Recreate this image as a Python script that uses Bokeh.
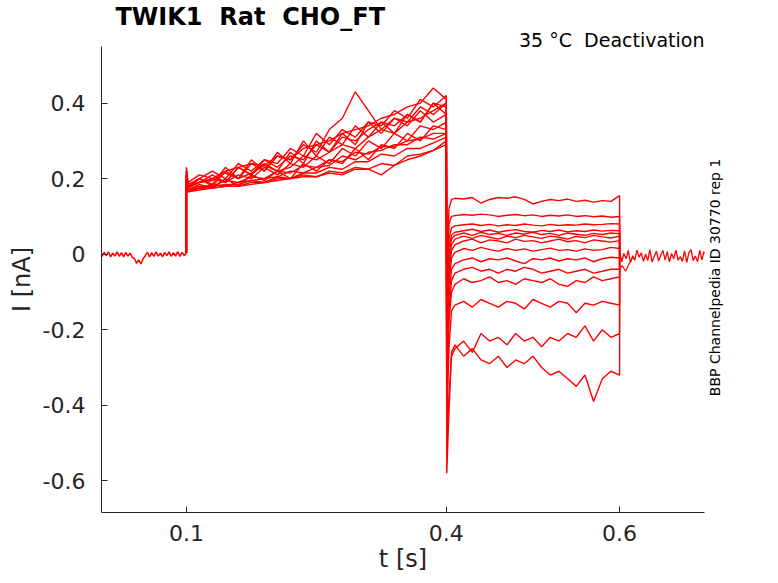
from bokeh.plotting import figure
from bokeh.models import Range1d, FixedTicker, Title, LinearAxis
from bokeh.embed import file_html
from bokeh.resources import INLINE
import math

# ---------------- data ----------------
t_pre = [round(0.0025 * k, 4) for k in range(41)]
i_pre = [0.004, -0.006, 0.005, -0.004, 0.006, -0.007, 0.003, -0.005, 0.006, -0.006,
         0.004, -0.007, 0.005, -0.005, 0.003, -0.008, -0.012, -0.024, -0.015, -0.026,
         -0.012, -0.004, 0.005, -0.007, 0.004, -0.006, 0.006, -0.005, 0.003, -0.007,
         0.005, -0.004, 0.006, -0.006, 0.004, -0.005, 0.007, -0.006, 0.005, -0.004, 0.003]

t1 = [0.100, 0.102, 0.115, 0.130, 0.145, 0.160, 0.175, 0.190, 0.205, 0.220, 0.235,
      0.250, 0.265, 0.280, 0.295, 0.310, 0.325, 0.340, 0.355, 0.370, 0.385, 0.400]
step1 = [
    [0.21, 0.18, 0.19, 0.195, 0.215, 0.20, 0.215, 0.235, 0.22, 0.23, 0.26, 0.25, 0.27, 0.29, 0.28, 0.31, 0.33, 0.32, 0.35, 0.36, 0.38, 0.40],
    [0.20, 0.175, 0.20, 0.18, 0.22, 0.20, 0.24, 0.22, 0.26, 0.25, 0.29, 0.27, 0.33, 0.36, 0.43, 0.38, 0.33, 0.36, 0.34, 0.38, 0.35, 0.37],
    [0.23, 0.19, 0.21, 0.20, 0.22, 0.23, 0.24, 0.235, 0.26, 0.25, 0.28, 0.29, 0.30, 0.32, 0.33, 0.34, 0.36, 0.37, 0.39, 0.40, 0.44, 0.41],
    [0.20, 0.17, 0.185, 0.175, 0.20, 0.18, 0.21, 0.195, 0.22, 0.20, 0.24, 0.22, 0.25, 0.24, 0.28, 0.25, 0.29, 0.28, 0.32, 0.30, 0.34, 0.33],
    [0.19, 0.165, 0.17, 0.175, 0.18, 0.18, 0.185, 0.19, 0.195, 0.20, 0.205, 0.205, 0.215, 0.21, 0.225, 0.225, 0.21, 0.235, 0.25, 0.26, 0.275, 0.29],
    [0.21, 0.18, 0.19, 0.21, 0.19, 0.23, 0.21, 0.24, 0.22, 0.27, 0.24, 0.30, 0.27, 0.32, 0.29, 0.35, 0.32, 0.36, 0.35, 0.39, 0.37, 0.40],
    [0.20, 0.17, 0.175, 0.185, 0.18, 0.19, 0.195, 0.20, 0.205, 0.22, 0.215, 0.23, 0.235, 0.26, 0.25, 0.27, 0.275, 0.29, 0.29, 0.31, 0.305, 0.32],
    [0.22, 0.18, 0.20, 0.185, 0.23, 0.20, 0.25, 0.22, 0.27, 0.24, 0.30, 0.26, 0.31, 0.29, 0.34, 0.31, 0.35, 0.34, 0.37, 0.35, 0.40, 0.37],
    [0.19, 0.165, 0.175, 0.175, 0.18, 0.18, 0.19, 0.19, 0.20, 0.20, 0.21, 0.205, 0.22, 0.215, 0.23, 0.225, 0.24, 0.235, 0.26, 0.265, 0.275, 0.30],
    [0.21, 0.175, 0.19, 0.20, 0.19, 0.23, 0.21, 0.25, 0.23, 0.26, 0.25, 0.29, 0.27, 0.31, 0.30, 0.33, 0.35, 0.32, 0.37, 0.35, 0.40, 0.39],
    [0.20, 0.17, 0.18, 0.18, 0.195, 0.19, 0.205, 0.20, 0.22, 0.215, 0.235, 0.23, 0.25, 0.245, 0.27, 0.265, 0.285, 0.285, 0.30, 0.305, 0.32, 0.32],
    [0.22, 0.185, 0.20, 0.22, 0.20, 0.24, 0.22, 0.25, 0.24, 0.28, 0.26, 0.32, 0.29, 0.33, 0.31, 0.35, 0.34, 0.38, 0.36, 0.41, 0.39, 0.42],
    [0.20, 0.17, 0.175, 0.18, 0.185, 0.185, 0.195, 0.19, 0.205, 0.20, 0.215, 0.215, 0.23, 0.225, 0.245, 0.245, 0.265, 0.26, 0.28, 0.28, 0.295, 0.31],
    [0.21, 0.18, 0.19, 0.20, 0.19, 0.21, 0.20, 0.23, 0.21, 0.24, 0.23, 0.26, 0.24, 0.28, 0.26, 0.30, 0.28, 0.32, 0.30, 0.34, 0.33, 0.35],
]

t2 = [0.4005, 0.403, 0.406, 0.41, 0.42, 0.43, 0.44, 0.45, 0.46, 0.47, 0.48, 0.49,
      0.50, 0.51, 0.52, 0.53, 0.54, 0.55, 0.56, 0.57, 0.58, 0.59, 0.60]
step2 = [
    [-0.12, 0.12, 0.145, 0.148, 0.146, 0.15, 0.135, 0.145, 0.15, 0.148, 0.152, 0.145, 0.133, 0.14, 0.145, 0.142, 0.146, 0.14, 0.143, 0.138, 0.142, 0.14, 0.155],
    [-0.15, 0.08, 0.10, 0.102, 0.105, 0.103, 0.106, 0.104, 0.10, 0.103, 0.105, 0.102, 0.104, 0.10, 0.103, 0.101, 0.104, 0.10, 0.102, 0.099, 0.101, 0.098, 0.10],
    [-0.18, 0.04, 0.07, 0.075, 0.078, 0.08, 0.076, 0.079, 0.075, 0.078, 0.076, 0.08, 0.077, 0.075, 0.079, 0.076, 0.078, 0.077, 0.08, 0.078, 0.079, 0.081, 0.08],
    [-0.20, 0.02, 0.05, 0.058, 0.062, 0.066, 0.06, 0.064, 0.058, 0.062, 0.065, 0.06, 0.058, 0.063, 0.06, 0.064, 0.059, 0.062, 0.06, 0.064, 0.061, 0.063, 0.062],
    [-0.22, 0.0, 0.04, 0.05, 0.056, 0.05, 0.058, 0.052, 0.055, 0.05, 0.056, 0.053, 0.058, 0.052, 0.055, 0.05, 0.056, 0.053, 0.05, 0.055, 0.052, 0.056, 0.054],
    [-0.25, -0.03, 0.025, 0.04, 0.048, 0.042, 0.05, 0.045, 0.04, 0.048, 0.044, 0.05, 0.046, 0.042, 0.048, 0.045, 0.04, 0.047, 0.044, 0.05, 0.046, 0.043, 0.048],
    [-0.28, -0.05, 0.01, 0.025, 0.035, 0.04, 0.03, 0.038, 0.035, 0.03, 0.04, 0.034, 0.036, 0.03, 0.035, 0.04, 0.033, 0.036, 0.03, 0.038, 0.035, 0.032, 0.036],
    [-0.30, -0.08, -0.01, 0.005, 0.015, 0.01, 0.018, 0.012, 0.008, 0.015, 0.01, 0.014, 0.008, 0.012, 0.016, 0.01, 0.012, 0.008, 0.014, 0.01, 0.012, 0.018, 0.015],
    [-0.33, -0.12, -0.04, -0.025, -0.015, -0.01, -0.02, -0.012, -0.015, -0.01, -0.018, -0.025, -0.012, -0.015, -0.01, -0.018, -0.012, -0.015, -0.01, -0.02, -0.012, -0.008, -0.01],
    [-0.36, -0.15, -0.07, -0.05, -0.04, -0.035, -0.045, -0.04, -0.05, -0.04, -0.045, -0.035, -0.04, -0.05, -0.045, -0.04, -0.05, -0.045, -0.04, -0.05, -0.045, -0.04, -0.04],
    [-0.40, -0.18, -0.10, -0.08, -0.065, -0.075, -0.07, -0.06, -0.075, -0.07, -0.08, -0.065, -0.07, -0.075, -0.065, -0.08, -0.085, -0.07, -0.075, -0.06, -0.07, -0.065, -0.06],
    [-0.45, -0.25, -0.15, -0.135, -0.125, -0.14, -0.12, -0.13, -0.14, -0.125, -0.13, -0.145, -0.12, -0.13, -0.14, -0.125, -0.13, -0.155, -0.13, -0.135, -0.125, -0.13, -0.135],
    [-0.52, -0.38, -0.27, -0.25, -0.23, -0.26, -0.21, -0.23, -0.22, -0.24, -0.21, -0.23, -0.22, -0.245, -0.22, -0.23, -0.21, -0.22, -0.19, -0.23, -0.20, -0.22, -0.21],
    [-0.58, -0.42, -0.26, -0.24, -0.27, -0.25, -0.28, -0.29, -0.27, -0.30, -0.28, -0.29, -0.27, -0.30, -0.32, -0.31, -0.33, -0.35, -0.32, -0.39, -0.33, -0.31, -0.32],
]

t_post = [round(0.6 + 0.0025 * k, 4) for k in range(41)]
i_post = [0.005, -0.02, 0.002, -0.012, 0.01, -0.022, -0.004, -0.016, 0.011, -0.008,
          0.004, -0.019, 0.0, -0.017, 0.012, -0.021, -0.006, 0.008, -0.018, -0.003,
          0.01, -0.015, 0.007, -0.02, 0.002, -0.012, 0.011, -0.016, -0.006, -0.019,
          0.009, -0.022, 0.004, 0.012, -0.017, -0.005, -0.02, 0.01, -0.015, 0.008, -0.004]
t_tail = [0.600, 0.603, 0.607, 0.611, 0.615]
i_tail = [-0.04, -0.03, -0.045, -0.025, -0.01]

xtick_vals = [0.1, 0.4, 0.6]
xtick_labels = ["0.1", "0.4", "0.6"]
ytick_vals = [-0.6, -0.4, -0.2, 0.0, 0.2, 0.4]
ytick_labels = ["-0.6", "-0.4", "-0.2", "0", "0.2", "0.4"]

NB = "\u00a0"  # keeps the double spaces of the original texts
title_text = "TWIK1" + NB + " Rat" + NB + " CHO_FT"
cond_text = "35 \u00b0C" + NB + " Deactivation"
side_text = "BBP Channelpedia ID 30770 rep 1"
side_text_y = -0.376   # where the rotated side text starts
xlabel = "t [s]"
ylabel = "I [nA]"

assert len(i_pre) == len(t_pre) and len(i_post) == len(t_post)

# ---------------- figure ----------------
FONT = "DejaVu Sans"
TXT = "#262626"
RED = "#ff0000"

p = figure(width=770, height=575, x_range=Range1d(0.002, 0.698), y_range=Range1d(-0.684, 0.55),
           output_backend="svg", toolbar_location=None, title=None,
           min_border_left=101, min_border_right=66, min_border_top=43, min_border_bottom=63)
p.outline_line_color = None
p.xgrid.visible = False
p.ygrid.visible = False
p.background_fill_color = "white"
p.border_fill_color = "white"

for ax in (p.xaxis[0], p.yaxis[0]):
    ax.axis_line_color = TXT
    ax.axis_line_width = 1
    ax.major_tick_line_color = TXT
    ax.major_tick_in = 6
    ax.major_tick_out = 0
    ax.minor_tick_line_color = None
    ax.major_label_text_font = FONT
    ax.major_label_text_font_size = "22px"
    ax.major_label_text_color = TXT
    ax.axis_label_text_font = FONT
    ax.axis_label_text_font_size = "24px"
    ax.axis_label_text_font_style = "normal"
    ax.axis_label_text_color = TXT

p.xaxis[0].ticker = FixedTicker(ticks=xtick_vals)
p.xaxis[0].major_label_overrides = {v: s for v, s in zip(xtick_vals, xtick_labels)}
p.xaxis[0].major_label_standoff = 12
p.xaxis[0].axis_label = xlabel
p.xaxis[0].axis_label_standoff = 1
p.yaxis[0].ticker = FixedTicker(ticks=ytick_vals)
p.yaxis[0].major_label_overrides = {v: s for v, s in zip(ytick_vals, ytick_labels)}
p.yaxis[0].major_label_standoff = 16
p.yaxis[0].axis_label = ylabel
p.yaxis[0].axis_label_standoff = 4

# side text as the single label of a bare right axis
side_axis = LinearAxis(ticker=FixedTicker(ticks=[side_text_y]),
                       major_label_overrides={side_text_y: side_text},
                       major_label_orientation=math.pi / 2,
                       axis_line_color=None, major_tick_line_color=None,
                       minor_tick_line_color=None, major_tick_in=0, major_tick_out=0,
                       major_label_standoff=11, major_label_text_font=FONT,
                       major_label_text_font_size="14px", major_label_text_color="#000000")
p.add_layout(side_axis, "right")

# titles above (first = nearest to the frame)
t_cond = Title(text=cond_text, align="right", text_font=FONT, text_font_size="19px",
               text_font_style="normal", text_color="#000000", standoff=-8)
t_main = Title(text=title_text, align="left", offset=14, text_font=FONT, text_font_size="24px",
               text_font_style="bold", text_color="#000000", standoff=0)
p.add_layout(t_cond, "above")
p.add_layout(t_main, "above")

# sweeps
xs, ys = [], []
for s1, s2 in zip(step1, step2):
    assert len(s1) == len(t1) and len(s2) == len(t2)
    xs.append([t_pre[-1]] + t1 + t2 + [t_post[0]])
    ys.append([i_pre[-1]] + s1 + s2 + [i_post[0]])
p.multi_line(xs, ys, line_color=RED, line_width=1.4)
p.line(t_pre, i_pre, line_color=RED, line_width=1.5)
p.line(t_post, i_post, line_color=RED, line_width=1.3)
p.line(t_tail, i_tail, line_color=RED, line_width=1.2)

open("out.html", "w").write(file_html(p, INLINE))
